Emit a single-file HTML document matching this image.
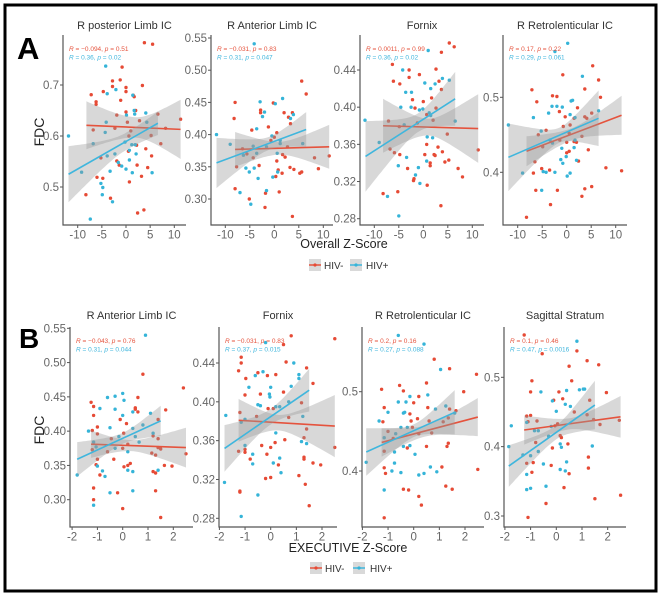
<!DOCTYPE html>
<html><head><meta charset="utf-8"><style>
html,body{margin:0;padding:0;background:#fff;}
svg{display:block;font-family:"Liberation Sans",Arial,sans-serif;}
</style></head><body>
<svg id="fig" width="664" height="600" viewBox="0 0 664 600" xmlns="http://www.w3.org/2000/svg">
<rect x="5" y="5" width="651" height="586" fill="#fff" stroke="#000" stroke-width="3"/>
<text x="17" y="59" font-size="31" font-weight="bold" fill="#000">A</text>
<text x="19" y="348" font-size="28" font-weight="bold" fill="#000">B</text>
<text transform="translate(44,132) rotate(-90)" text-anchor="middle" font-size="14" fill="#222">FDC</text>
<text transform="translate(44,430) rotate(-90)" text-anchor="middle" font-size="14" fill="#222">FDC</text>
<text x="344" y="248" text-anchor="middle" font-size="12.5" fill="#222">Overall Z-Score</text>
<text x="348" y="552" text-anchor="middle" font-size="12.5" fill="#222">EXECUTIVE Z-Score</text>
<g>
 <g><rect x="309" y="259" width="12" height="12" fill="#d9d9d9"/><line x1="309" y1="265" x2="321" y2="265" stroke="#e5533d" stroke-width="1.5"/><circle cx="315" cy="265" r="1.6" fill="#e64a35"/><text x="324" y="269" font-size="10" fill="#333">HIV-</text></g>
 <g><rect x="350" y="259" width="12" height="12" fill="#d9d9d9"/><line x1="350" y1="265" x2="362" y2="265" stroke="#3fb6dd" stroke-width="1.5"/><circle cx="356" cy="265" r="1.6" fill="#35b4d8"/><text x="366" y="269" font-size="10" fill="#333">HIV+</text></g>
</g>
<g>
 <g><rect x="310" y="562" width="12" height="12" fill="#d9d9d9"/><line x1="310" y1="568" x2="322" y2="568" stroke="#e5533d" stroke-width="1.5"/><circle cx="316" cy="568" r="1.6" fill="#e64a35"/><text x="325" y="572" font-size="10" fill="#333">HIV-</text></g>
 <g><rect x="353" y="562" width="12" height="12" fill="#d9d9d9"/><line x1="353" y1="568" x2="365" y2="568" stroke="#3fb6dd" stroke-width="1.5"/><circle cx="359" cy="568" r="1.6" fill="#35b4d8"/><text x="370" y="572" font-size="10" fill="#333">HIV+</text></g>
</g>
</svg>
<script>
// ===== DATA =====
const aXTicks = [-10,-5,0,5,10];
const bXTicks = [-2,-1,0,1,2];
const a1YTicks = [0.5,0.6,0.7];
const a2YTicks = [0.30,0.35,0.40,0.45,0.50,0.55];
const a3YTicks = [0.28,0.32,0.36,0.40,0.44];
const a4YTicks = [0.4,0.5];
const b1YTicks = [0.30,0.35,0.40,0.45,0.50,0.55];
const b2YTicks = [0.28,0.32,0.36,0.40,0.44];
const b3YTicks = [0.4,0.5];
const b4YTicks = [0.3,0.4,0.5];
const panelTitles = ["R posterior Limb IC","R Anterior Limb IC","Fornix","R Retrolenticular IC","R Anterior Limb IC","Fornix","R Retrolenticular IC","Sagittal Stratum"];
const redStats = [["−0.094","0.51"],["−0.031","0.83"],["0.0011","0.99"],["0.17","0.22"],["−0.043","0.76"],["−0.031","0.83"],["0.2","0.16"],["0.1","0.46"]];
const blueStats = [["0.36","0.02"],["0.31","0.047"],["0.36","0.02"],["0.29","0.061"],["0.31","0.044"],["0.37","0.015"],["0.27","0.088"],["0.47","0.0016"]];

const a1RedX = [3.8,5.5,-0.8,-2.8,-1.2,0,0,3.4,-7.2,-4.7,-6.2,-6.2,-1.1,1.5,1.7,-2.8,0,2,-1.9,-6.8,-2.3,0.3,2.8,6.6,11.3,8.2,7.2,5.2,4.1,0.5,2.2,-1.9,-5.2,-1.4,2.3,5.3,4.5,-6,-4.8,0.7,3.2,-8.3,-3.2,3.7,2.4,1,0.6];
const a1RedY = [.783,.780,.735,.708,.710,.695,.687,.699,.681,.687,.667,.662,.670,.680,.677,.697,.647,.65,.641,.612,.615,.627,.63,.643,.633,.615,.585,.601,.575,.570,.582,.551,.557,.543,.543,.561,.538,.519,.517,.51,.521,.485,.478,.455,.449,.61,.60];
const a1BlueX = [-4.2,-3.9,-2.1,1.4,1.7,1.8,4.1,0.1,-4.1,-4.3,-11.9,-6.8,-0.2,1.2,1.9,0.7,-2.3,-3.9,-1.6,-0.9,-9.2,-3.3,0,1.3,5.4,2.1,-5.2,-4.8,-4.9,-2.8,-7.4,0.7,4.3];
const a1BlueY = [.737,.683,.691,.68,.65,.643,.645,.641,.627,.607,.600,.585,.588,.583,.583,.572,.565,.561,.548,.541,.529,.531,.535,.528,.528,.565,.507,.499,.485,.471,.437,.553,.627];
const a1RedFit = [-8.2,0.621,11.3,0.613];
const a1BlueFit = [-11.9,0.525,6.6,0.625];
const a1RedBand = [2,0.02,0.047,0.058];
const a1BlueBand = [0,0.017,0.055,0.023];

const a2RedX = [5.6,6.5,-8,-0.2,-2.8,-2.8,-8.2,-1.2,2,2.9,3.7,3.3,0.5,0,-4.6,-0.7,-6.5,-5.6,-4.3,1.7,2.2,2.7,8.2,11.2,-7.7,-3.1,0.5,3.2,4,5.2,9,1.6,0.8,0.3,-8,-5.1,-1.8,1,-1.9,3.7,5.6];
const a2RedY = [.483,.463,.45,.449,.438,.434,.425,.412,.434,.427,.434,.417,.403,.396,.407,.391,.378,.37,.364,.369,.365,.381,.364,.367,.35,.352,.359,.349,.346,.34,.347,.34,.345,.335,.316,.30,.309,.311,.287,.273,.342];
const a2BlueX = [-4.1,-11.8,-9,-3.6,-2.9,-2.4,-2,0.2,1.7,3.9,3.3,-0.5,1.2,-4.3,-3.6,-6.3,-1.6,0.6,5.8,-5.8,-4.1,-5.1,-0.3,0.7,-3.3,-1.6,-7,-4.8,1.2];
const a2BlueY = [.541,.40,.385,.409,.451,.428,.435,.448,.456,.431,.425,.398,.391,.382,.371,.368,.381,.371,.386,.348,.348,.342,.334,.342,.332,.313,.31,.292,.386];
const a2RedFit = [-8,0.377,11.2,0.381];
const a2BlueFit = [-11.8,0.356,6.5,0.408];
const a2RedBand = [1,0.01,0.027,0.034];
const a2BlueBand = [-1,0.01,0.039,0.027];

const a3RedX = [5.3,6.3,3.7,-6.3,2.6,-2.9,-0.8,-2.9,-6.1,-4.8,3.2,3.7,1.7,-2.2,0,-1.7,2.6,0.7,-7.1,-1.2,2,-4.9,4.9,0.7,-6.8,-5.9,-4.8,0.3,2.2,3,3.9,4.4,5.2,1.4,1.4,-3.2,7.1,8,-2,-1.9,0.8,-8.2,-5.2,3.6,11.2,2.4];
const a3RedY = [.469,.465,.459,.446,.441,.44,.435,.432,.428,.425,.428,.419,.41,.408,.406,.399,.399,.392,.385,.383,.386,.379,.371,.36,.355,.351,.349,.349,.349,.357,.352,.341,.343,.34,.337,.334,.334,.325,.321,.323,.316,.307,.309,.294,.354,.348];
const a3BlueX = [1,-4.2,0.3,1.5,3.9,5.3,-3.6,-2.4,2.4,-4.6,-2.5,-0.8,-0.1,1.2,1.5,-11.9,-9,-3.9,0.8,1.9,-3.4,-5.1,-1,-1.6,-0.7,-7.3,-5,6.5,0.7];
const a3BlueY = [.461,.44,.426,.42,.431,.429,.416,.416,.425,.4,.4,.397,.398,.394,.391,.386,.362,.381,.368,.367,.346,.337,.335,.327,.318,.304,.283,.385,.342];
const a3RedFit = [-8.2,0.38,11.2,0.377];
const a3BlueFit = [-11.8,0.347,6.5,0.409];
const a3RedBand = [1,0.009,0.029,0.037];
const a3BlueBand = [-1,0.01,0.038,0.029];

const a4RedX = [5.3,6.5,-7.1,3.7,6.9,-0.8,-2.9,-2,-6.1,2.2,5.1,-1.5,-0.3,1.5,3.7,4.1,0.7,-4.2,-5.8,3.1,-1.4,0,1.5,2,4.4,0.5,0,-4.9,-6.5,2.4,-5.1,-3.5,8,11.2,-6.8,-6.3,-1.9,3.7,5.1,3.1,-3.3,-8.2,0.5,-0.7];
const a4RedY = [.542,.523,.51,.511,.5,.53,.502,.501,.494,.486,.479,.481,.474,.472,.474,.472,.463,.456,.45,.448,.443,.44,.441,.44,.43,.428,.426,.434,.414,.415,.405,.403,.406,.402,.399,.376,.376,.378,.381,.368,.357,.34,.452,.461];
const a4BlueX = [0.2,-2.4,3.2,0.9,1.2,-3,-2,-0.9,-6.8,-3.7,-5.2,-11.9,0.7,1.7,6.5,-3.4,-2.9,-1,1.7,1.5,-1.2,-0.8,-0.1,-9,-4.8,-4.2,-2.4,0.7,0.1,-5.1,2];
const a4BlueY = [.572,.561,.528,.495,.496,.488,.488,.487,.473,.479,.455,.463,.477,.473,.482,.443,.439,.432,.443,.433,.417,.412,.421,.399,.401,.4,.4,.399,.395,.376,.416];
const a4RedFit = [-8.2,0.428,11.2,0.476];
const a4BlueFit = [-11.9,0.42,6.5,0.472];
const a4RedBand = [1,0.008,0.02,0.026];
const a4BlueBand = [-1.5,0.01,0.045,0.037];

const b1RedX = [0.8,2.4,-1.25,-1.15,0.6,0.5,0.5,0.6,-1.15,-1,-0.1,0.15,1.7,1.4,-1.2,-1,1.2,1.4,-0.45,0.04,-1.2,-1,-0.35,0,0.2,1.15,1.3,1.4,1.5,-1.05,0.05,0.2,0.3,1.2,1.3,1.65,1.95,-0.9,2.5,-1.15,-1.15,-0.2,1.3,0,1.5,-0.6];
const b1RedY = [.483,.463,.442,.436,.449,.434,.432,.428,.423,.406,.417,.411,.431,.417,.401,.396,.393,.389,.389,.397,.373,.359,.359,.375,.381,.368,.365,.376,.374,.351,.348,.35,.353,.341,.339,.35,.349,.336,.367,.317,.30,.31,.313,.287,.274,.37];
const b1BlueX = [0.9,-1.35,-0.9,-0.6,-0.3,0,0.05,-0.3,-0.5,0,0.4,1.1,0.8,0.4,0.5,-1.15,-1.05,-0.15,-0.3,0.2,0.65,1.2,-0.8,-0.7,-1,0.2,0.4,-1.8,-0.5,0.4,-1.15,1.4];
const b1BlueY = [.54,.40,.433,.449,.451,.455,.445,.432,.405,.423,.428,.426,.409,.404,.392,.384,.377,.392,.375,.37,.384,.397,.342,.334,.349,.343,.341,.336,.31,.313,.292,.343];
const b1RedFit = [-1.25,0.381,2.5,0.376];
const b1BlueFit = [-1.8,0.359,1.5,0.415];
const b1RedBand = [0.3,0.008,0.02,0.029];
const b1BlueBand = [0,0.008,0.025,0.022];

const b2RedX = [0.8,2.5,0.5,-1.15,-1.15,-1.25,0.6,1.4,-0.97,-0.5,-0.13,0.2,1.65,-0.4,-1,0.5,-1.2,-0.1,0.1,1.2,-0.55,0.7,1.4,1.3,0.55,0.17,0,-0.35,-1.25,-1,-1,2.5,-0.8,1.3,1.3,1.65,1.95,0.3,-0.2,0,1.1,1.35,-1.2,-1.2,1.5,-0.15];
const b2RedY = [.468,.465,.459,.446,.44,.432,.441,.435,.424,.43,.427,.428,.419,.408,.407,.41,.389,.393,.393,.399,.385,.384,.372,.363,.361,.358,.353,.355,.349,.348,.351,.353,.341,.343,.341,.337,.335,.335,.321,.322,.324,.315,.308,.307,.293,.346];
const b2BlueX = [-0.2,0.9,1.1,1.1,-0.6,-0.3,-0.85,0.8,0,-0.05,-0.03,-0.5,-0.4,0.2,0.35,0.7,-1.75,-1.15,-1,1.25,1.4,0.2,-1,-0.7,-0.7,0.35,0.1,0.4,-1.8,-0.5,-1.15,1.2];
const b2BlueY = [.461,.44,.428,.424,.427,.431,.415,.416,.415,.408,.405,.397,.396,.395,.395,.4,.386,.379,.382,.385,.357,.368,.355,.346,.336,.342,.337,.327,.317,.304,.282,.359];
const b2RedFit = [-1.25,0.381,2.5,0.375];
const b2BlueFit = [-1.8,0.352,1.5,0.412];
const b2RedBand = [0.3,0.008,0.022,0.032];
const b2BlueBand = [0,0.008,0.024,0.022];

const b3RedX = [0.8,1.4,2.45,-0.55,-1.25,-0.4,0.5,1.95,0,0.2,-1.15,0.55,-0.15,1.4,1.65,1.35,-0.1,0.15,-1.2,0.6,1.15,-0.8,-1,-0.05,0.2,0.7,-1.15,-0.25,0.5,1.35,1.3,-1.1,-1.15,1.1,1.5,-0.4,-0.2,1.25,0.2,0.3,2.5,-1.15];
const b3RedY = [.541,.529,.522,.508,.503,.501,.511,.5,.486,.494,.48,.48,.472,.478,.476,.467,.463,.466,.462,.463,.462,.441,.45,.455,.447,.448,.425,.429,.431,.435,.431,.397,.404,.405,.377,.377,.376,.381,.368,.357,.402,.341];
const b3BlueX = [-0.6,0.4,1.05,-0.6,-0.3,-0.15,0.55,-1,-0.4,-0.35,-1.35,0.85,1.25,1.6,-0.5,-0.25,-0.7,-1.15,-0.4,-0.75,-0.15,-1.85,-0.75,0.05,-0.85,-0.5,0.2,0.4,0.9,-1.15,0.65];
const b3BlueY = [.571,.56,.528,.487,.487,.494,.496,.474,.473,.474,.463,.478,.482,.473,.455,.455,.447,.442,.431,.424,.432,.411,.41,.421,.4,.398,.395,.397,.399,.376,.405];
const b3RedFit = [-1.25,0.436,2.5,0.468];
const b3BlueFit = [-1.85,0.424,1.6,0.474];
const b3RedBand = [0.4,0.007,0.018,0.024];
const b3BlueBand = [0,0.008,0.03,0.028];

const b4RedX = [-1.25,0.8,-0.55,1.2,1.65,0.5,-0.95,0.6,-1,0.1,1.95,-0.1,0.25,1.3,-1.15,-1,-1.1,-0.75,0.7,0.05,-0.05,1.2,1.45,1.7,2.45,0.15,0.2,-0.8,0.45,-0.15,-1.15,-0.9,-0.2,1.25,1.25,0.5,0.3,-0.4,1.5,2.5,-1.1,-0.95];
const b4RedY = [.561,.538,.534,.524,.518,.516,.495,.495,.479,.479,.478,.467,.469,.467,.444,.445,.436,.437,.45,.433,.43,.446,.439,.432,.438,.416,.413,.406,.404,.398,.376,.377,.373,.385,.369,.361,.341,.318,.325,.33,.298,.363];
const b4BlueX = [0.8,1.1,1.05,0.9,-0.6,0.4,-0.15,0.35,0.55,0,-1.75,-1.15,-0.85,-0.7,-0.2,-0.3,-0.7,0.15,0.2,-1.85,-1.3,-1,-0.5,0.4,0.15,0.35,-1.15,-1.15,-1,-0.4,1.4];
const b4BlueY = [.552,.483,.483,.482,.479,.481,.466,.461,.458,.451,.43,.435,.423,.423,.429,.415,.393,.404,.399,.4,.388,.387,.375,.378,.367,.365,.36,.338,.34,.343,.401];
const b4RedFit = [-1.25,0.424,2.5,0.443];
const b4BlueFit = [-1.85,0.372,1.5,0.46];
const b4RedBand = [0.5,0.008,0.021,0.03];
const b4BlueBand = [0,0.01,0.03,0.035];

// ===== LAYOUT =====
const panels = [
 {key:'a1', rect:[63,35,186,225], xr:[0,126,10,174.3], yr:[0.7,85,0.5,187], xt:aXTicks, yt:a1YTicks, dec:1, ty:29, rx:a1RedX, ry:a1RedY, bx:a1BlueX, by:a1BlueY, rf:a1RedFit, bf:a1BlueFit, rb:a1RedBand, bb:a1BlueBand},
 {key:'a2', rect:[211,35,333,225], xr:[0,274.3,10,323.3], yr:[0.55,38,0.30,199], xt:aXTicks, yt:a2YTicks, dec:2, ty:29, rx:a2RedX, ry:a2RedY, bx:a2BlueX, by:a2BlueY, rf:a2RedFit, bf:a2BlueFit, rb:a2RedBand, bb:a2BlueBand},
 {key:'a3', rect:[360,35,484,225], xr:[0,423.3,10,472.3], yr:[0.44,70,0.28,218.7], xt:aXTicks, yt:a3YTicks, dec:2, ty:29, rx:a3RedX, ry:a3RedY, bx:a3BlueX, by:a3BlueY, rf:a3RedFit, bf:a3BlueFit, rb:a3RedBand, bb:a3BlueBand},
 {key:'a4', rect:[503,35,627,225], xr:[0,566.7,10,615.7], yr:[0.5,97.3,0.4,172.3], xt:aXTicks, yt:a4YTicks, dec:1, ty:29, rx:a4RedX, ry:a4RedY, bx:a4BlueX, by:a4BlueY, rf:a4RedFit, bf:a4BlueFit, rb:a4RedBand, bb:a4BlueBand},
 {key:'b1', rect:[70,327,193,527], xr:[0,122.7,2,173.3], yr:[0.55,328.3,0.30,499.7], xt:bXTicks, yt:b1YTicks, dec:2, ty:319, rx:b1RedX, ry:b1RedY, bx:b1BlueX, by:b1BlueY, rf:b1RedFit, bf:b1BlueFit, rb:b1RedBand, bb:b1BlueBand},
 {key:'b2', rect:[219,327,337,527], xr:[0,270.7,2,322], yr:[0.44,363,0.28,518.3], xt:bXTicks, yt:b2YTicks, dec:2, ty:319, rx:b2RedX, ry:b2RedY, bx:b2BlueX, by:b2BlueY, rf:b2RedFit, bf:b2BlueFit, rb:b2RedBand, bb:b2BlueBand},
 {key:'b3', rect:[362,327,484,527], xr:[0,413.7,2,465], yr:[0.5,391.7,0.4,471], xt:bXTicks, yt:b3YTicks, dec:1, ty:319, rx:b3RedX, ry:b3RedY, bx:b3BlueX, by:b3BlueY, rf:b3RedFit, bf:b3BlueFit, rb:b3RedBand, bb:b3BlueBand},
 {key:'b4', rect:[504,327,626,527], xr:[0,556.3,2,607.7], yr:[0.5,377.3,0.3,516], xt:bXTicks, yt:b4YTicks, dec:1, ty:319, rx:b4RedX, ry:b4RedY, bx:b4BlueX, by:b4BlueY, rf:b4RedFit, bf:b4BlueFit, rb:b4RedBand, bb:b4BlueBand}
];
const NS='http://www.w3.org/2000/svg';
const svg=document.getElementById('fig');
const RED='#e64a35', BLUE='#35b4d8', REDL='#e5533d', BLUEL='#3fb6dd';
function mk(tag, attrs, parent){const e=document.createElementNS(NS,tag);for(const k in attrs)e.setAttribute(k,attrs[k]);parent.appendChild(e);return e;}
function scale(r){const k=(r[3]-r[1])/(r[2]-r[0]);return v=>r[1]+(v-r[0])*k;}

panels.forEach((p,i)=>{
 const sx=scale(p.xr), sy=scale(p.yr);
 const [L,T,R,B]=p.rect;
 const g=mk('g',{},svg);
 
 
 const t=mk('text',{x:(L+R)/2,y:p.ty,'text-anchor':'middle','font-size':'11',fill:'#333'},g);
 
 
 t.textContent=panelTitles[i];
 const ax=mk('path',{d:`M${L},${T} V${B} H${R}`,fill:'none',stroke:'#555','stroke-width':'1.2'},g);
 
 
 p.xt.forEach(v=>{
  const x=sx(v);
  mk('line',{x1:x,y1:B,x2:x,y2:B+3,stroke:'#555','stroke-width':'1'},g);
  const tl=mk('text',{x:x,y:B+13.5,'text-anchor':'middle','font-size':'11.5',fill:'#666'},g);
  
  
  tl.textContent=String(v);
 });
 p.yt.forEach(v=>{
  const y=sy(v);
  mk('line',{x1:L-3,y1:y,x2:L,y2:y,stroke:'#555','stroke-width':'1'},g);
  const tl=mk('text',{x:L-4,y:y+4,'text-anchor':'end','font-size':'11.5',fill:'#666'},g);
  
  
  tl.textContent=v.toFixed(p.dec);
 });
 function pts(xs,ys,col,nm){
  const n=Math.min(xs.length,ys.length);
  for(let j=0;j<n;j++){
   const c=mk('circle',{cx:sx(xs[j]).toFixed(1),cy:sy(ys[j]).toFixed(1),r:'1.7',fill:col},g);
   
   
  }
 }
 pts(p.rx,p.ry,RED,'point-hiv-neg');
 pts(p.bx,p.by,BLUE,'point-hiv-pos');
 function smooth(fit,band,col,nm){
  const [x0,y0,x1,y1]=fit, [xm,hm,h0,h1]=band;
  const slope=(y1-y0)/(x1-x0);
  const b0=(h0*h0-hm*hm)/Math.max((x0-xm)**2,1e-6), b1=(h1*h1-hm*hm)/Math.max((x1-xm)**2,1e-6);
  const up=[],lo=[];
  for(let k=0;k<=40;k++){
   const x=x0+(x1-x0)*k/40, yc=y0+slope*(x-x0);
   const bb=x<xm?b0:b1;
   const h=Math.sqrt(hm*hm+bb*(x-xm)**2);
   up.push(sx(x).toFixed(1)+','+sy(yc+h).toFixed(1));
   lo.unshift(sx(x).toFixed(1)+','+sy(yc-h).toFixed(1));
  }
  const poly=mk('polygon',{points:up.concat(lo).join(' '),fill:'#999','fill-opacity':'0.38'},g);
  
  
  const ln=mk('line',{x1:sx(x0),y1:sy(y0),x2:sx(x1),y2:sy(y1),stroke:col,'stroke-width':'1.6'},g);
  
  
 }
 smooth(p.rf,p.rb,REDL,'hiv-neg');
 smooth(p.bf,p.bb,BLUEL,'hiv-pos');
 function stat(s,col,y,nm){
  const tx=mk('text',{x:L+6,y:y,'font-size':'6.5',fill:col},g);
  
  
  const a=mk('tspan',{'font-style':'italic'},tx);a.textContent='R';
  const b=mk('tspan',{},tx);b.textContent=' = '+s[0]+', ';
  const c=mk('tspan',{'font-style':'italic'},tx);c.textContent='p';
  const d=mk('tspan',{},tx);d.textContent=' = '+s[1];
 }
 stat(redStats[i],REDL,T+16,'stat-annotation-hiv-neg');
 stat(blueStats[i],BLUEL,T+24.5,'stat-annotation-hiv-pos');
});
</script>
</body></html>
